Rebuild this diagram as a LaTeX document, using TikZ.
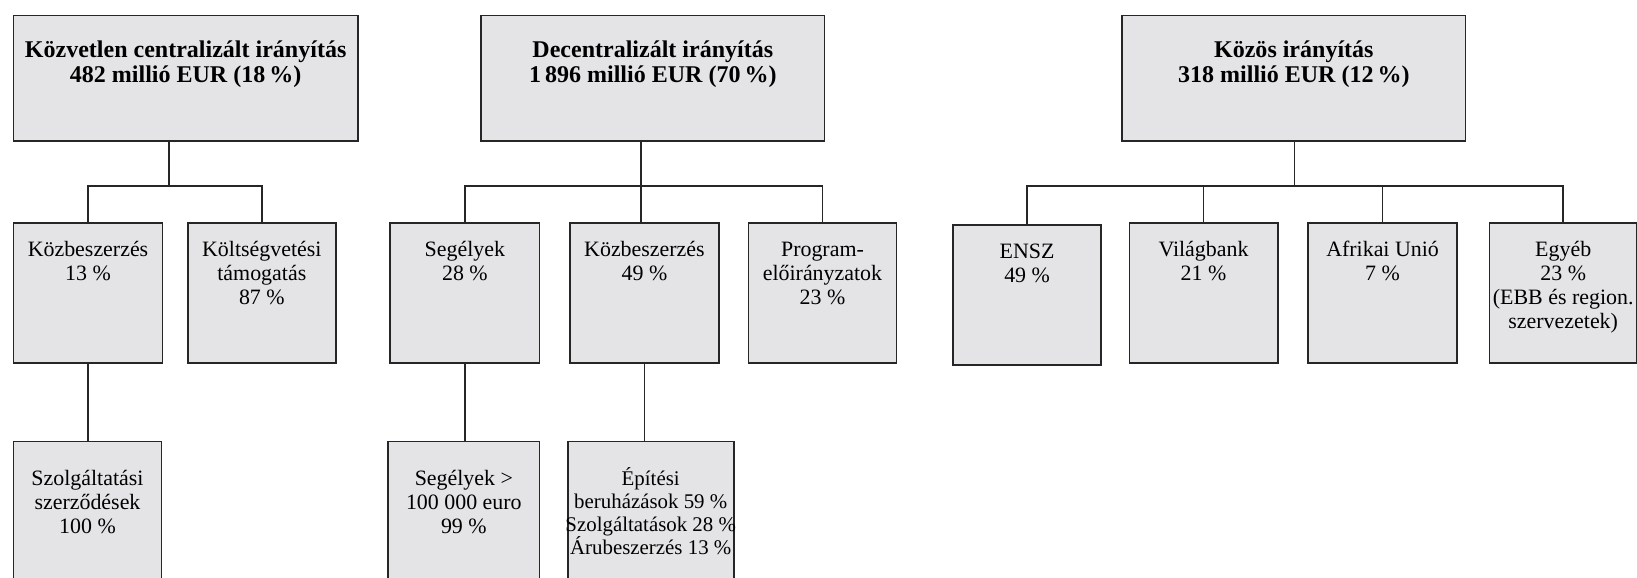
\documentclass[tikz,border=0pt]{standalone}
\usepackage{tikz}
\usepackage{fontspec}
\setmainfont{Liberation Serif}

\newlength{\du}
\setlength{\du}{0.5pt}

\definecolor{boxgray}{rgb}{0.894,0.894,0.902}
\definecolor{dialinecolor}{rgb}{0.150000, 0.150000, 0.150000}

% text of a box: width, height, top to first baseline, lines
\newcommand{\boxtext}[4]{\parbox[t][#2][t]{#1}{\centering\rule{0pt}{#3}#4}}

\tikzset{
  box/.style={draw=dialinecolor, fill=boxgray, line width=0.8pt, inner sep=0pt,
    anchor=north west, font=\fontsize{10.5}{11.5}\selectfont},
  headbox/.style={box, font=\bfseries\fontsize{11.5}{12}\selectfont},
  conn/.style={draw=dialinecolor, line width=0.85pt}
}

\begin{document}
\begin{tikzpicture}
\pgftransformxscale{1.000000}
\pgftransformyscale{-1.000000}
\useasboundingbox (0\du,0\du) rectangle (1568\du,553\du);
% top row
\node[headbox] (dc) at (12\du,14\du) {\boxtext{330\du}{120\du}{20pt}{Közvetlen centralizált irányítás\\482 millió EUR (18\,\%)}};
\node[headbox] (dec) at (460\du,14\du) {\boxtext{329\du}{120\du}{20pt}{Decentralizált irányítás\\1\,896 millió EUR (70\,\%)}};
\node[headbox] (kozos) at (1074\du,14\du) {\boxtext{329\du}{120\du}{20pt}{Közös irányítás\\318 millió EUR (12\,\%)}};
% second row
\node[box] (dcKozb) at (12\du,213\du) {\boxtext{143\du}{134\du}{16pt}{Közbeszerzés\\13~\%}};
\node[box] (dcKolt) at (179\du,213\du) {\boxtext{142\du}{134\du}{16pt}{Költségvetési\\támogatás\\87~\%}};
\node[box] (decSeg) at (373\du,213\du) {\boxtext{143\du}{134\du}{16pt}{Segélyek\\28~\%}};
\node[box] (decKozb) at (545\du,213\du) {\boxtext{143\du}{134\du}{16pt}{Közbeszerzés\\49~\%}};
\node[box] (decProg) at (716\du,213\du) {\boxtext{142\du}{134\du}{16pt}{Program-\\előirányzatok\\23~\%}};
\node[box] (kEnsz) at (912\du,215\du) {\boxtext{142\du}{134\du}{16pt}{ENSZ\\49~\%}};
\node[box] (kVb) at (1081\du,213\du) {\boxtext{142\du}{134\du}{16pt}{Világbank\\21~\%}};
\node[box] (kAu) at (1252\du,213\du) {\boxtext{143\du}{134\du}{16pt}{Afrikai Unió\\7~\%}};
\node[box] (kEgyeb) at (1426\du,213\du) {\boxtext{141\du}{134\du}{16pt}{Egyéb\\23~\%\\\makebox[\linewidth]{(EBB és region.}\\szervezetek)}};
% third row
\node[box] (dcSzolg) at (12\du,422\du) {\boxtext{142\du}{140\du}{21pt}{Szolgáltatási\\szerződések\\100~\%}};
\node[box] (decSegNagy) at (371\du,422\du) {\boxtext{145\du}{140\du}{21pt}{Segélyek >\\100~000 euro\\99~\%}};
\node[box, font=\fontsize{10}{11}\selectfont] (decEpit) at (543\du,422\du) {\boxtext{159\du}{140\du}{21pt}{Építési\\\makebox[\linewidth]{beruházások 59~\%}\\\makebox[\linewidth]{Szolgáltatások 28~\%}\\\makebox[\linewidth]{Árubeszerzés 13~\%}}};
% junctions
\coordinate (ja) at (162\du,178\du);
\coordinate (jb) at (614\du,178\du);
\coordinate (jc) at (1240\du,178\du);
% connectors
\draw[conn] (ja |- dc.south) -- (ja);
\draw[conn] (dcKozb.north) |- (ja) -| (dcKolt.north);
\draw[conn] (jb |- dec.south) -- (jb |- decKozb.north);
\draw[conn] (decSeg.north) |- (jb) -| (decProg.north);
\draw[conn] (jc |- kozos.south) -- (jc);
\draw[conn] (kEnsz.north) |- (jc) -| (kEgyeb.north);
\draw[conn] (kVb.north) -- (kVb.north |- jc);
\draw[conn] (kAu.north) -- (kAu.north |- jc);
\draw[conn] (dcKozb.south) -- (dcKozb.south |- dcSzolg.north);
\draw[conn] (decSeg.south) -- (decSeg.south |- decSegNagy.north);
\draw[conn] (decKozb.south) -- (decKozb.south |- decEpit.north);
\end{tikzpicture}
\end{document}
